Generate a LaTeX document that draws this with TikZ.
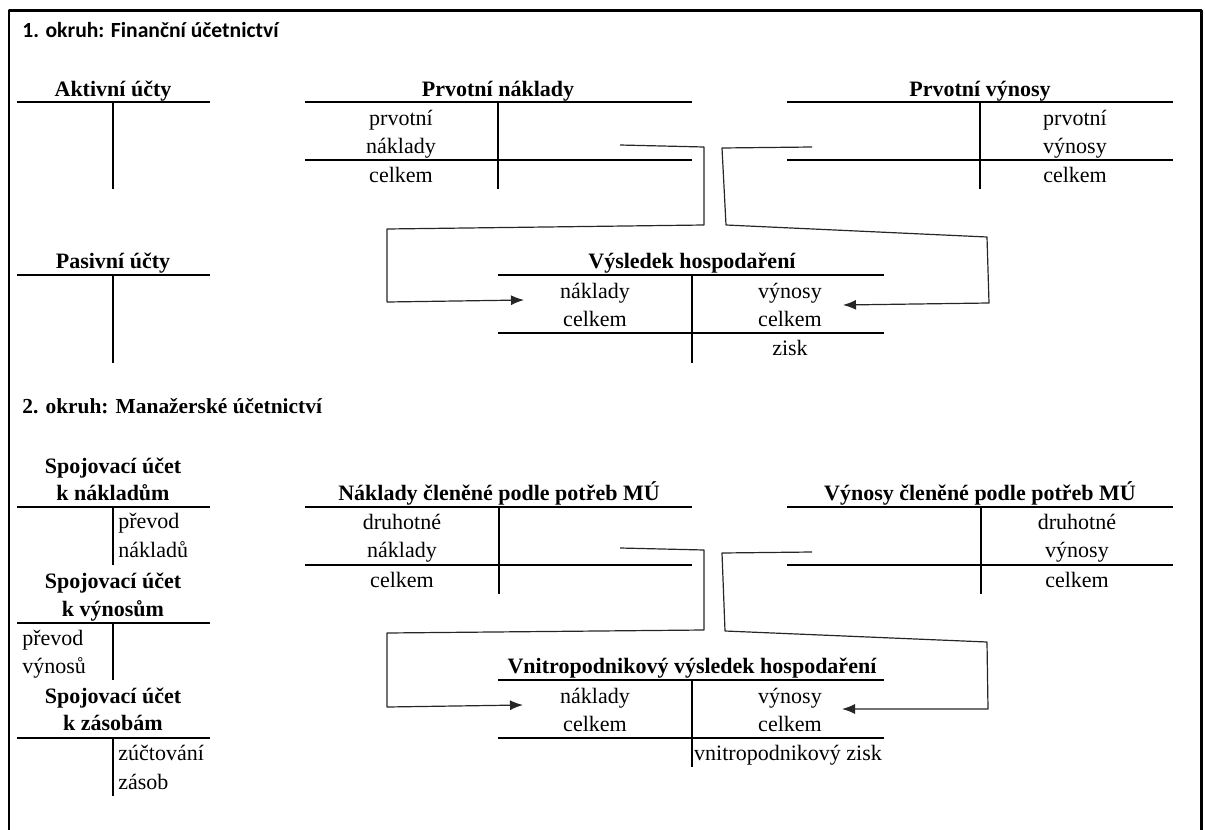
\documentclass[tikz,border=0pt]{standalone}
\usepackage{fontspec}
\setmainfont{Liberation Serif}
\newfontfamily\carlito{Carlito}
\usepackage{tikz}
\usetikzlibrary{arrows.meta}

\tikzset{
  every node/.style={inner sep=0pt},
  acctitle/.style={anchor=base, font=\fontsize{11}{13}\selectfont\bfseries},
  entry/.style={anchor=base, font=\fontsize{11}{13}\selectfont},
  tline/.style={line width=0.75pt},
  link/.style={line width=0.6pt, black!85},
  flow/.style={link, -{Latex[length=6.5pt, width=5pt]}}
}

\begin{document}
\begin{tikzpicture}[x=0.5pt, y=-0.5pt, line join=round]

    \useasboundingbox (0,0) rectangle (1205,830);

    % frame, open at the bottom
    \draw[line width=1.2pt] (9,830) -- (9,10.5) -- (1201.5,10.5) -- (1201.5,830);

    % ==========================================
    % 1. OKRUH
    % ==========================================

    \node[anchor=base west, font=\carlito\fontsize{10.8}{13}\selectfont\bfseries] (fin) at (22,37) {1. okruh: Finanční účetnictví};

    % Aktivní účty
    \node[acctitle] (akt) at (113,96) {Aktivní účty};
    \draw[tline] (17,102) -- (210,102) (113,102) -- (113,189);

    % Prvotní náklady
    \node[acctitle] (pn) at (498,96) {Prvotní náklady};
    \draw[tline] (305,102) -- (692,102) (305,160) -- (692,160) (498,102) -- (498,189);
    \node[entry] (pn-a) at (401,125) {prvotní};
    \node[entry] (pn-b) at (401,153) {náklady};
    \node[entry] (pn-c) at (401,182) {celkem};

    % Prvotní výnosy
    \node[acctitle] (pv) at (980,96) {Prvotní výnosy};
    \draw[tline] (787,102) -- (1173,102) (787,160) -- (1173,160) (980,102) -- (980,189);
    \node[entry] (pv-a) at (1075,125) {prvotní};
    \node[entry] (pv-b) at (1075,153) {výnosy};
    \node[entry] (pv-c) at (1075,182) {celkem};

    % Pasivní účty
    \node[acctitle] (pas) at (113,268) {Pasivní účty};
    \draw[tline] (17,275) -- (210,275) (113,275) -- (113,363);

    % Výsledek hospodaření
    \node[acctitle] (vh) at (692,268) {Výsledek hospodaření};
    \draw[tline] (498,275) -- (884,275) (498,333) -- (884,333) (692,275) -- (692,363);
    \node[entry] (vh-a) at (595,298) {náklady};
    \node[entry] (vh-b) at (595,326) {celkem};
    \node[entry] (vh-c) at (790,298) {výnosy};
    \node[entry] (vh-d) at (790,326) {celkem};
    \node[entry] (vh-e) at (790,355) {zisk};

    % transfers into the result account
    \coordinate (pn-out) at (620,145);
    \coordinate (vh-inl) at (524,300);
    \coordinate (pv-out) at (812,147);
    \coordinate (vh-inr) at (843,305);
    \draw[flow] (pn-out) -- (704,147) -- (704,225) -- (387,229) -- (387,302) -- (vh-inl);
    \draw[flow] (pv-out) -- (722,148) -- (726,225) -- (987,237) -- (989,303) -- (vh-inr);

    % ==========================================
    % 2. OKRUH
    % ==========================================

    \node[anchor=base west, font=\fontsize{10.7}{13}\selectfont\bfseries] (man) at (22,413) {2. okruh: Manažerské účetnictví};

    % Spojovací účet k nákladům
    \node[acctitle] (sn) at (113,473) {Spojovací účet};
    \node[acctitle] (sn2) at (113,500) {k nákladům};
    \draw[tline] (17,507) -- (210,507) (113,507) -- (113,565);
    \node[entry, anchor=base west] (sn-a) at (118,528) {převod};
    \node[entry, anchor=base west] (sn-b) at (118,557) {nákladů};

    % Spojovací účet k výnosům
    \node[acctitle] (sv) at (113,588) {Spojovací účet};
    \node[acctitle] (sv2) at (113,616) {k výnosům};
    \draw[tline] (17,623) -- (210,623) (113,623) -- (113,680);
    \node[entry, anchor=base west] (sv-a) at (22,645) {převod};
    \node[entry, anchor=base west] (sv-b) at (22,673) {výnosů};

    % Spojovací účet k zásobám
    \node[acctitle] (sz) at (113,703) {Spojovací účet};
    \node[acctitle] (sz2) at (113,730) {k zásobám};
    \draw[tline] (17,738) -- (210,738) (113,738) -- (113,796);
    \node[entry, anchor=base west] (sz-a) at (118,760) {zúčtování};
    \node[entry, anchor=base west] (sz-b) at (118,789) {zásob};

    % Náklady členěné podle potřeb MÚ
    \node[acctitle] (nc) at (499,500) {Náklady členěné podle potřeb MÚ};
    \draw[tline] (305,507) -- (692,507) (305,565) -- (692,565) (499,507) -- (499,594);
    \node[entry] (nc-a) at (402,529) {druhotné};
    \node[entry] (nc-b) at (402,557) {náklady};
    \node[entry] (nc-c) at (402,587) {celkem};

    % Výnosy členěné podle potřeb MÚ
    \node[acctitle] (vc) at (980,500) {Výnosy členěné podle potřeb MÚ};
    \draw[tline] (787,507) -- (1173,507) (787,565) -- (1173,565) (981,507) -- (981,594);
    \node[entry] (vc-a) at (1077,529) {druhotné};
    \node[entry] (vc-b) at (1077,557) {výnosy};
    \node[entry] (vc-c) at (1077,587) {celkem};

    % Vnitropodnikový výsledek hospodaření
    \node[acctitle] (vvh) at (692,673) {Vnitropodnikový výsledek hospodaření};
    \draw[tline] (498,680) -- (884,680) (498,738) -- (884,738) (692,680) -- (692,767);
    \node[entry] (vvh-a) at (595,703) {náklady};
    \node[entry] (vvh-b) at (595,731) {celkem};
    \node[entry] (vvh-c) at (790,703) {výnosy};
    \node[entry] (vvh-d) at (790,731) {celkem};
    \node[entry] (vvh-e) at (788,760) {vnitropodnikový zisk};

    % transfers into the internal result account
    \coordinate (nc-out) at (620,548);
    \coordinate (vvh-inl) at (523,705);
    \coordinate (vc-out) at (812,552);
    \coordinate (vvh-inr) at (842,709);
    \draw[flow] (nc-out) -- (704,550) -- (704,630) -- (387,633) -- (387,707) -- (vvh-inl);
    \draw[flow] (vc-out) -- (722,553) -- (725,631) -- (987,642) -- (988,709) -- (vvh-inr);

\end{tikzpicture}
\end{document}
